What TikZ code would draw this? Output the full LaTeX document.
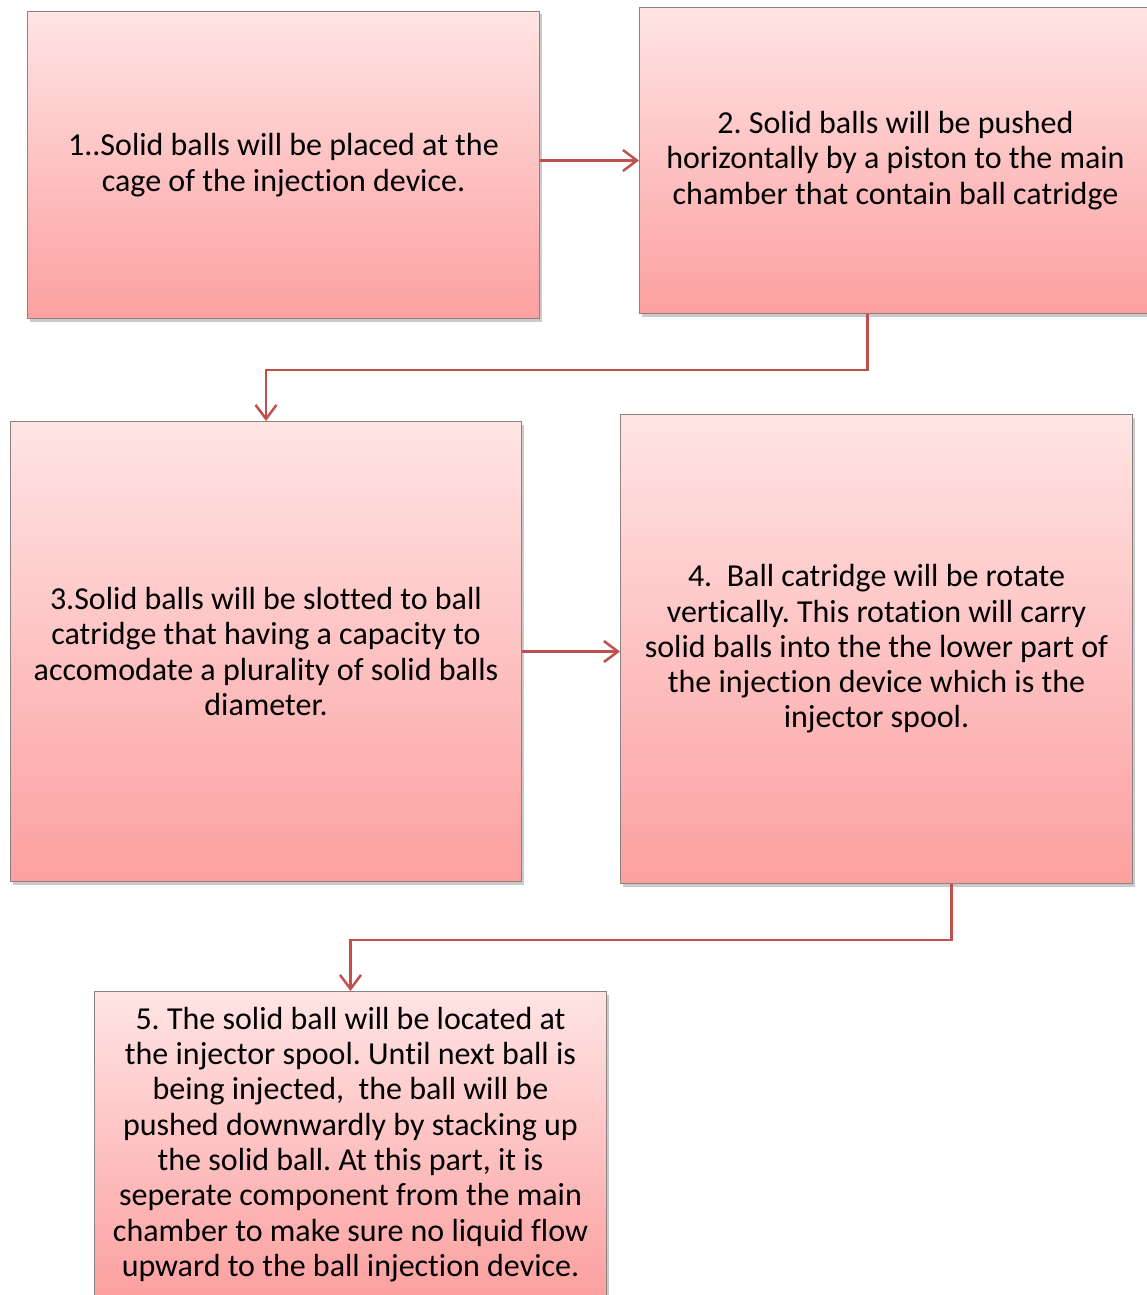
\documentclass[tikz,border=0pt]{standalone}
\usepackage{fontspec}
\setmainfont[Ligatures=NoCommon]{Carlito}
\frenchspacing
\usetikzlibrary{arrows.meta,shadows,calc}
\definecolor{boxtop}{RGB}{255,228,228}
\definecolor{boxbot}{RGB}{252,160,160}
\definecolor{boxline}{RGB}{140,130,130}
\definecolor{arrowred}{RGB}{192,80,77}
\tikzset{
  stepbox/.style={draw=boxline, line width=1pt, top color=boxtop, bottom color=boxbot,
    anchor=north west, align=center, inner sep=0pt,
    font=\fontsize{32}{35.3}\selectfont\frenchspacing,
    drop shadow={shadow xshift=2pt, shadow yshift=-3pt, opacity=0.35, fill=black!60}},
  flow/.style={draw=arrowred, line width=2.5pt,
    -{Straight Barb[length=14pt,width=21pt,line width=2.5pt]}}
}
\begin{document}
\begin{tikzpicture}[x=1pt,y=-1pt]
\useasboundingbox (0,0) rectangle (1146,1295);
\node[stepbox, minimum width=512pt, minimum height=307pt] (b1) at (27,11)
  {1..Solid balls will be placed at the\\cage of the injection device.};
\node[stepbox, minimum width=512pt, minimum height=306pt] (b2) at (639,7)
  {2. Solid balls will be pushed\\horizontally by a piston to the main\\chamber that contain ball catridge};
\node[stepbox, minimum width=511pt, minimum height=460pt] (b3) at (10,421)
  {3.Solid balls will be slotted to ball\\catridge that having a capacity to\\accomodate a plurality of solid balls\\diameter.};
\node[stepbox, minimum width=512pt, minimum height=469pt] (b4) at (620,414)
  {4.\ \ Ball catridge will be rotate\\vertically. This rotation will carry\\solid balls into the the lower part of\\the injection device which is the\\injector spool.};
\node[stepbox, minimum width=512pt, minimum height=306pt] (b5) at (94,991)
  {5. The solid ball will be located at\\the injector spool. Until next ball is\\being injected,\ \ the ball will be\\pushed downwardly by stacking up\\the solid ball. At this part, it is\\seperate component from the main\\chamber to make sure no liquid flow\\upward to the ball injection device.};
\draw[flow] (b1.east |- b2.west) -- (b2.west);
\draw[flow] ([xshift=-28pt]b2.south) -- ++(0,56) -| (b3.north);
\draw[flow] (b3.east) -- (b3.east -| b4.west);
\draw[flow] ([xshift=75pt]b4.south) -- ++(0,56) -| (b5.north);
\end{tikzpicture}
\end{document}
